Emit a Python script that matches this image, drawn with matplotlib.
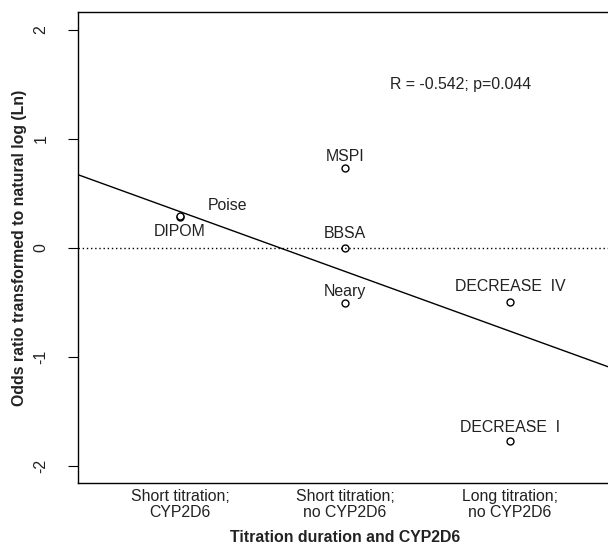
import matplotlib
matplotlib.use("Agg")
import matplotlib.pyplot as plt

plt.rcParams['font.family'] = ['Liberation Sans', 'DejaVu Sans']

# Study data: titration group (1..3) and ln(odds ratio)
studies = ['DIPOM', 'Poise', 'MSPI', 'BBSA', 'Neary', 'DECREASE  IV', 'DECREASE  I']
group = [1, 1, 2, 2, 2, 3, 3]
ln_or = [0.28, 0.29, 0.73, 0.0, -0.51, -0.50, -1.77]
label_x = [1.0, 1.29, 2.0, 2.0, 2.0, 3.0, 3.0]
label_y = [0.15, 0.385, 0.84, 0.13, -0.40, -0.36, -1.65]

# Meta-regression line
intercept = 0.878
slope = -0.548

group_labels = ['Short titration;\nCYP2D6', 'Short titration;\nno CYP2D6', 'Long titration;\nno CYP2D6']
y_ticks = [-2, -1, 0, 1, 2]

fs = 11.4
tc = '#222222'

fig = plt.figure(figsize=(6.08, 5.51), dpi=100)
ax = fig.add_axes([0.128, 0.123, 0.879, 0.855])

ax.plot(group, ln_or, 'o', mfc='white', mec='black', ms=5, mew=1)
ax.axline((0, intercept), slope=slope, color='black', lw=1)
ax.axhline(0, color='black', lw=1, ls=(0, (1, 2)))

for name, x, y in zip(studies, label_x, label_y):
    ax.text(x, y, name, ha='center', va='center', fontsize=fs, color=tc)

ax.text(2.7, 1.5, 'R = -0.542; p=0.044', ha='center', va='center', fontsize=fs, color=tc)

ax.set_xlim(0.38, 3.62)
ax.set_ylim(-2.16, 2.16)
ax.set_xticks([1, 2, 3])
ax.set_xticklabels(group_labels, fontsize=fs, color=tc, linespacing=1.1)
ax.tick_params(axis='x', length=0, pad=4)
ax.set_yticks(y_ticks)
ax.set_yticklabels([str(v) for v in y_ticks], rotation=90, va='center', fontsize=fs, color=tc)
ax.tick_params(axis='y', length=7, pad=14)

fig.text(345 / 608, 1 - 537 / 551, 'Titration duration and CYP2D6',
         ha='center', va='center', fontsize=fs, fontweight='bold', color=tc)
fig.text(20 / 608, 1 - 248 / 551, 'Odds ratio transformed to natural log (Ln)',
         ha='center', va='center', rotation=90, fontsize=fs, fontweight='bold', color=tc)

for s in ax.spines.values():
    s.set_linewidth(1)

fig.savefig('out.png', dpi=100)
